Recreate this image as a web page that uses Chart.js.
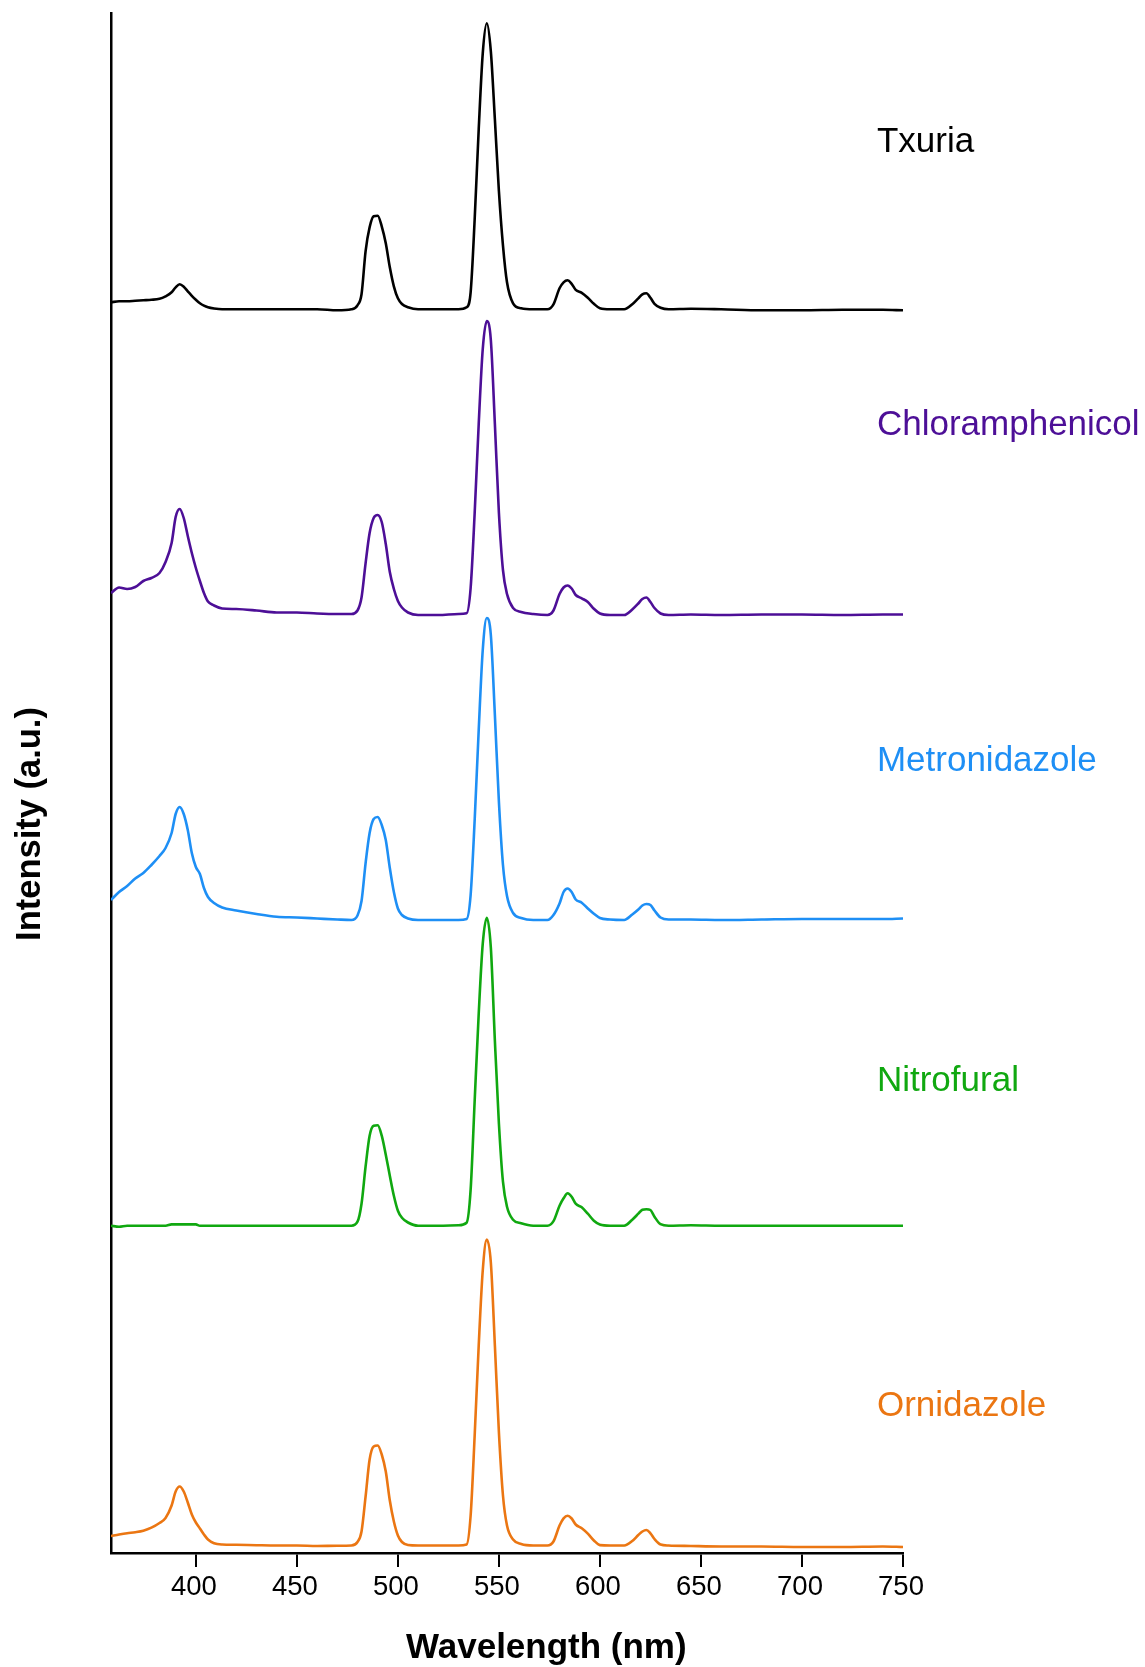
<!DOCTYPE html>
<html>
<head>
<meta charset="utf-8">
<title>Emission spectra</title>
<script src="https://cdn.jsdelivr.net/npm/chart.js@4.4.1/dist/chart.umd.min.js"></script>
<style>
  html, body { margin: 0; padding: 0; background: #ffffff; }
  #wrap { width: 1145px; height: 1667px; position: relative; }
  canvas { display: block; }
</style>
</head>
<body>
<div id="wrap"><canvas id="spectra" width="1145" height="1667"></canvas></div>
<script>
// Emission wavelength grid (nm)
const wavelengths = [
  358, 362, 366, 370, 374, 378, 382, 385, 388, 390,
  392, 394, 396, 398, 400, 402, 404, 406, 409, 413,
  420, 430, 440, 450, 460, 470, 477, 480, 482, 484,
  486, 488, 490, 492, 494, 496, 498, 500, 502, 505,
  510, 520, 530, 534, 536, 538, 540, 542, 544, 546,
  548, 550, 552, 554, 557, 561, 567, 574, 577, 580,
  582, 584, 586, 588, 591, 594, 597, 600, 605, 612,
  616, 619, 621, 623, 625, 627, 630, 634, 645, 660,
  680, 700, 720, 740, 750
];

// Intensity of each sample above its own baseline (a.u.)
const txuria = [
  7, 8, 8, 8.5, 9, 9.5, 10.5, 13, 17, 22,
  25, 22.6, 18, 13.5, 9.5, 6, 3.6, 2, 0.8, 0,
  0, 0, 0, 0, 0, -1, 0, 4, 15, 58,
  82, 93, 93.5, 83, 66, 42, 23, 11, 5.3, 2,
  0, 0, 0, 2, 17, 90, 180, 256, 286, 258,
  190, 118, 64, 27, 6, 1, 0, 0, 5, 21,
  27, 29, 25.5, 19.5, 16.5, 11.5, 5.5, 1, 0, 0,
  5, 11, 15, 16, 11.5, 5.5, 1.5, 0, 0.5, 0,
  -1, -1, -0.5, -0.5, -1
];
const chloramphenicol = [
  21, 26.5, 25, 27, 33, 36, 41, 52, 71, 97,
  105, 96, 78, 61, 46, 33, 21, 12.5, 8.5, 5.5,
  5, 3.5, 1.5, 1.5, 0.5, 0, 0, 3.5, 16.5, 50.7,
  81, 96, 99, 92, 70, 42, 25, 13, 6.5, 1.5,
  -1, -1, 0, 0.7, 26, 101, 190, 265, 293, 274,
  190, 101, 44, 20, 6, 2, 0, -1, 3.5, 20,
  26.5, 28.5, 25.5, 19, 15.7, 12, 5.2, 0.5, -1, -1,
  4.5, 10.5, 15, 16.5, 12, 6, 0.5, -1, -0.5, -1,
  -0.5, -0.5, -1, -0.5, -0.5
];
const metronidazole = [
  20, 28, 34, 41.5, 47, 55, 64, 72, 87, 106,
  113, 106, 90, 67, 53, 46, 32, 23, 17, 12.5,
  9.5, 6, 3.2, 2.5, 1.5, 0.5, 0, 4.5, 19, 56.7,
  87, 101, 103, 95, 80, 52, 28, 11.5, 5, 1.5,
  0, 0, 0, 1, 25, 100, 190, 270, 302, 285,
  205, 118, 55, 24, 7, 2, 0, 0, 5, 16.5,
  28, 31.5, 28, 20.5, 17.3, 11.5, 6.2, 2, 0.5, 0,
  5.5, 10.5, 14.5, 16, 15, 9.5, 2.5, 0.5, 0.5, 0,
  0.5, 1, 1, 1, 1.5
];
const nitrofural = [
  0, -1, 0, 0, 0, 0, 0, 0, 1.3, 1.3,
  1.3, 1.3, 1.3, 1.3, 1.3, 0, 0, 0, 0, 0,
  0, 0, 0, 0, 0, 0, 0, 4, 22, 59,
  90, 100, 100.5, 90, 71, 50, 30, 15, 8, 3.2,
  0, 0, 0.5, 3, 36, 125, 212, 282, 308, 278,
  185, 102, 44, 19, 6, 2.4, 0, 0, 4.5, 20,
  27.4, 32.4, 29, 22, 18.4, 12, 5, 1.2, 0, 0,
  6, 12, 16, 16.5, 15.7, 9, 1.5, 0, 0.5, 0,
  0, 0, 0, 0, 0
];
const ornidazole = [
  9.5, 11, 12.3, 13.3, 14.8, 17.8, 22.5, 27.5, 40, 54,
  59, 54, 43, 31, 23, 17, 11, 6, 2.3, 1,
  0.7, 0.3, 0, 0, -0.5, -0.3, 0, 3.5, 14, 48.8,
  86, 99, 100, 91, 74, 45, 24, 10, 3.5, 0.5,
  0, 0, 0, 1, 30, 110, 200, 275, 306, 283,
  200, 113, 50, 20, 6, 1.5, 0, 0, 4, 20,
  27.2, 29.8, 27, 21, 17.2, 11.8, 5, 0.4, 0, 0,
  4.5, 10.5, 14, 15.5, 12.2, 6.5, 1, 0, -0.5, -1,
  -1, -1.5, -1.5, -1, -1.5
];

const seriesNames = ['Txuria', 'Chloramphenicol', 'Metronidazole', 'Nitrofural', 'Ornidazole'];
// Vertical offset that stacks each spectrum (a.u.)
const stackOffsets = [1243.7, 939, 633, 327.3, 7.5];
const xTickValues = [400, 450, 500, 550, 600, 650, 700, 750];

const seriesColors = ['#000000', '#4d0f97', '#1e8ff5', '#10a810', '#eb7612'];
const FONT = '"Liberation Sans", Arial, Helvetica, sans-serif';

// Where the spectrum names sit: wavelength of the left edge and level of the baseline (a.u.)
const nameAnchorNm = 737.1;
const nameLevels = [1401.3, 1118.5, 782.5, 462.5, 137.5];

const seriesValues = [txuria, chloramphenicol, metronidazole, nitrofural, ornidazole];
const datasets = seriesValues.map((vals, i) => ({
  label: seriesNames[i],
  data: vals.map((v, k) => ({ x: wavelengths[k], y: v + stackOffsets[i] })),
  borderColor: seriesColors[i],
  backgroundColor: seriesColors[i],
  borderWidth: 2.6,
  pointRadius: 0,
  cubicInterpolationMode: 'monotone',
  fill: false
}));

// Spectrum names and axis titles
const annotationPlugin = {
  id: 'spectrumText',
  afterDraw(chart) {
    const ctx = chart.ctx;
    const xs = chart.scales.x, ys = chart.scales.y;
    ctx.save();
    ctx.textAlign = 'left';
    ctx.textBaseline = 'alphabetic';
    ctx.font = '35px ' + FONT;
    seriesNames.forEach((name, i) => {
      ctx.fillStyle = seriesColors[i];
      ctx.fillText(name, xs.getPixelForValue(nameAnchorNm), ys.getPixelForValue(nameLevels[i]));
    });

    ctx.fillStyle = '#000000';
    ctx.font = 'bold 35px ' + FONT;
    ctx.fillText('Wavelength (nm)', 406, 1658);

    ctx.translate(40, 824);
    ctx.rotate(-Math.PI / 2);
    ctx.textAlign = 'center';
    ctx.font = 'bold 34.5px ' + FONT;
    ctx.fillText('Intensity (a.u.)', 0, 0);
    ctx.restore();
  }
};

new Chart(document.getElementById('spectra'), {
  type: 'line',
  data: { datasets },
  plugins: [annotationPlugin],
  options: {
    responsive: false,
    animation: false,
    devicePixelRatio: 1,
    layout: { padding: { top: 13, right: 242, bottom: 0, left: 0 } },
    plugins: { legend: { display: false }, tooltip: { enabled: false } },
    scales: {
      x: {
        type: 'linear',
        min: 358,
        max: 750,
        afterBuildTicks: (s) => { s.ticks = xTickValues.map(v => ({ value: v })); },
        afterFit: (s) => { s.height = 114; },
        ticks: {
          color: '#000000',
          font: { family: FONT, size: 27.5 },
          padding: 4,
          labelOffset: -2,
          maxRotation: 0,
          autoSkip: false
        },
        grid: {
          display: true,
          drawOnChartArea: false,
          drawTicks: true,
          tickLength: 14,
          color: '#000000',
          lineWidth: 2
        },
        border: { display: true, color: '#000000', width: 2.5 }
      },
      y: {
        type: 'linear',
        min: 0,
        max: 1540,
        afterFit: (s) => { s.width = 111; },
        ticks: { display: false },
        grid: { display: false, drawTicks: false },
        border: { display: true, color: '#000000', width: 2.5 }
      }
    }
  }
});
</script>
</body>
</html>
